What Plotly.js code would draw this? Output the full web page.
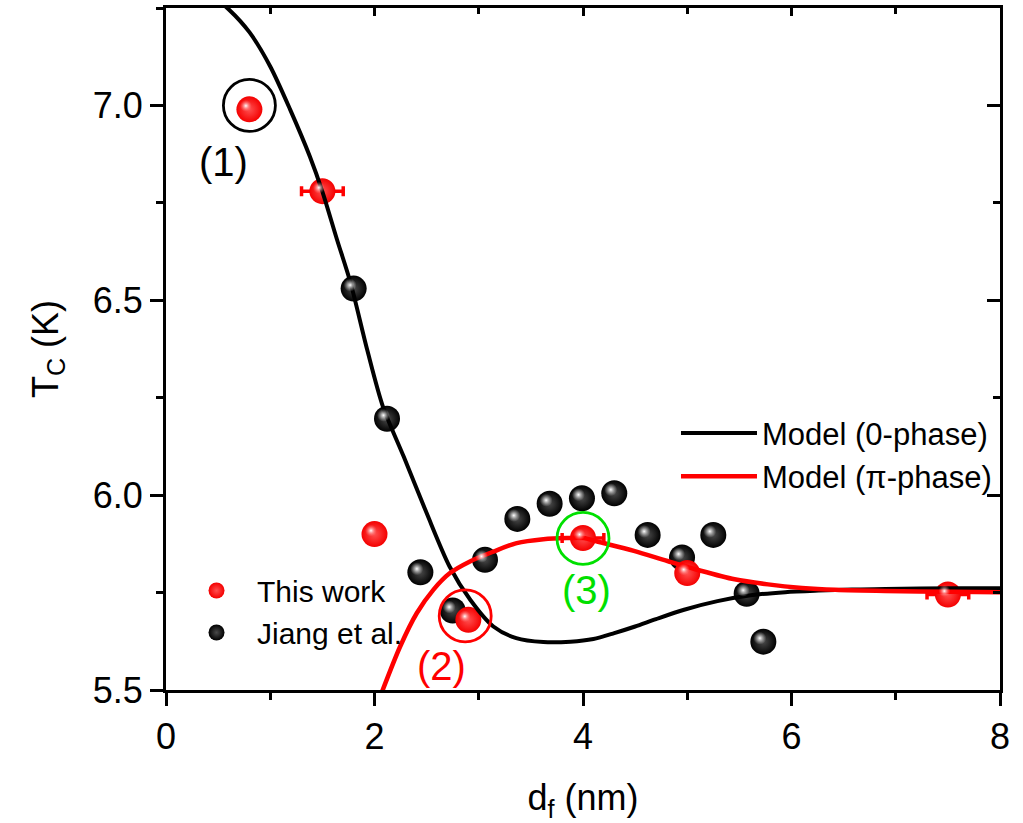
<!DOCTYPE html>
<html>
<head>
<meta charset="utf-8">
<script src="https://cdn.plot.ly/plotly-3.0.1.min.js"></script>
<style>html,body{margin:0;padding:0;background:#fff;}#chart{width:1023px;height:823px;}</style>
</head>
<body>
<div id="chart"></div>
<script>
// ---- data ----
const thisWorkX = [0.8, 1.5, 2.0, 2.9, 4.0, 5.0, 7.5];
const thisWorkY = [6.99, 6.78, 5.90, 5.68, 5.89, 5.80, 5.745];
const thisWorkErr = [null, 0.2, null, null, 0.2, null, 0.2];

const jiangX = [1.8, 2.12, 2.44, 2.75, 3.06, 3.37, 3.68, 3.99, 4.30, 4.62, 4.95, 5.25, 5.57, 5.73];
const jiangY = [6.53, 6.196, 5.802, 5.704, 5.834, 5.939, 5.978, 5.992, 6.005, 5.898, 5.840, 5.898, 5.747, 5.624];

const model0X = [0.4, 0.6, 0.8, 1.0, 1.19, 1.38, 1.5, 1.64, 1.77, 1.93, 2.08, 2.28, 2.5, 2.72, 2.92, 3.14, 3.36, 3.62, 3.88, 4.1, 4.3, 4.5, 4.7, 4.97, 5.29, 5.61, 5.94, 6.26, 6.58, 6.9, 7.55, 8.0];
const model0Y = [7.29, 7.247, 7.188, 7.10, 6.99, 6.869, 6.779, 6.656, 6.545, 6.373, 6.228, 6.099, 5.954, 5.817, 5.731, 5.663, 5.633, 5.623, 5.624, 5.631, 5.646, 5.663, 5.682, 5.706, 5.728, 5.743, 5.751, 5.755, 5.758, 5.759, 5.761, 5.761];

const modelPiX = [2.05, 2.245, 2.405, 2.564, 2.724, 2.916, 3.14, 3.364, 3.62, 3.844, 4.003, 4.166, 4.488, 4.81, 5.13, 5.454, 5.775, 6.10, 6.42, 6.9, 7.55, 8.0];
const modelPiY = [5.48, 5.611, 5.697, 5.757, 5.80, 5.830, 5.855, 5.877, 5.887, 5.890, 5.890, 5.879, 5.857, 5.831, 5.806, 5.784, 5.771, 5.762, 5.757, 5.754, 5.752, 5.751];

const circleX = [0.8, 2.87, 4.0];
const circleY = [7.0, 5.69, 5.889];
const circleColors = ['#000000', '#ff0000', '#00e000'];

const labelText = ['(1)', '(2)', '(3)'];
const labelX = [0.55, 2.64, 4.03];
const labelY = [6.855, 5.562, 5.757];
const labelColors = ['#000000', '#ff0000', '#00e000'];

const xTickVals = [0, 2, 4, 6, 8];
const yTickVals = [5.5, 6.0, 6.5, 7.0];

// ---- styling ----
const FONT = 'Liberation Sans, Arial, sans-serif';
const XR = [0, 8], YR = [5.5, 7.25];
// small offsets (in px) for the specular highlight on the balls
const hx = 3.5 * (XR[1] - XR[0]) / 834, hy = 3.5 * (YR[1] - YR[0]) / 682;

const traces = [
  { x: jiangX, y: jiangY, type: 'scatter', mode: 'markers', name: 'Jiang et al.',
    legend: 'legend', legendrank: 2,
    marker: { size: 26, color: '#000000', gradient: { type: 'radial', color: '#4a4a4a' }, line: { width: 0 } } },
  { x: thisWorkX, y: thisWorkY, type: 'scatter', mode: 'markers', name: 'This work',
    legend: 'legend', legendrank: 1,
    error_x: { type: 'data', array: thisWorkErr, visible: true, color: '#ff0000', thickness: 3.5, width: 5 },
    marker: { size: 26, color: '#f40000', gradient: { type: 'radial', color: '#ff5050' }, line: { width: 0 } } },
  { x: model0X, y: model0Y, type: 'scatter', mode: 'lines', name: 'Model (0-phase)',
    legend: 'legend2', legendrank: 1,
    line: { color: '#000000', width: 4, shape: 'spline', smoothing: 0.8 } },
  { x: modelPiX, y: modelPiY, type: 'scatter', mode: 'lines', name: 'Model (π-phase)',
    legend: 'legend2', legendrank: 2,
    line: { color: '#ff0000', width: 4.5, shape: 'spline', smoothing: 0.8 } },
  { x: circleX, y: circleY, type: 'scatter', mode: 'markers', xaxis: 'x2', yaxis: 'y2', showlegend: false,
    hoverinfo: 'skip',
    marker: { symbol: 'circle-open', size: 52, color: circleColors, line: { width: 2.8 } } },
  { x: jiangX, y: jiangY, type: 'scatter', mode: 'markers', xaxis: 'x3', yaxis: 'y3', showlegend: false,
    hoverinfo: 'skip',
    marker: { size: 13, color: 'rgba(200,200,200,0)', gradient: { type: 'radial', color: '#ffffff' }, line: { width: 0 } } },
  { x: thisWorkX, y: thisWorkY, type: 'scatter', mode: 'markers', xaxis: 'x3', yaxis: 'y3', showlegend: false,
    hoverinfo: 'skip',
    marker: { size: 12, color: 'rgba(255,120,120,0)', gradient: { type: 'radial', color: '#ffffff' }, line: { width: 0 } } }
];

const axCommon = {
  showgrid: false, zeroline: false, showline: true, linecolor: '#000', linewidth: 3,
  tickcolor: '#000', tickwidth: 3, tickfont: { family: FONT, size: 36, color: '#000' }
};

const layout = {
  width: 1023, height: 823,
  margin: { l: 166, r: 23, t: 8, b: 133, pad: 0 },
  paper_bgcolor: '#ffffff', plot_bgcolor: '#ffffff',
  font: { family: FONT, color: '#000' },
  showlegend: true,
  xaxis: Object.assign({}, axCommon, {
    range: XR, tickvals: xTickVals, ticks: 'outside', ticklen: 13, anchor: 'y',
    minor: { dtick: 1, ticks: 'outside', ticklen: 7, tickwidth: 3, tickcolor: '#000', showgrid: false },
    title: { text: 'd<sub>f</sub> (nm)', font: { family: FONT, size: 36, color: '#000' }, standoff: 38 }
  }),
  yaxis: Object.assign({}, axCommon, {
    range: YR, tickvals: yTickVals, tickformat: '.1f', ticks: 'outside', ticklen: 13, anchor: 'x',
    minor: { dtick: 0.25, ticks: 'outside', ticklen: 7, tickwidth: 3, tickcolor: '#000', showgrid: false },
    title: { text: 'T<sub>C</sub> (K)', font: { family: FONT, size: 36, color: '#000' }, standoff: 24 }
  }),
  xaxis2: Object.assign({}, axCommon, {
    range: XR, overlaying: 'x', side: 'top', anchor: 'y2', tickvals: xTickVals, ticks: 'inside', ticklen: 8,
    showticklabels: false,
    minor: { dtick: 1, ticks: 'inside', ticklen: 6, tickwidth: 3, tickcolor: '#000', showgrid: false }
  }),
  yaxis2: Object.assign({}, axCommon, {
    range: YR, overlaying: 'y', side: 'right', anchor: 'x2', tickvals: yTickVals, ticks: 'inside', ticklen: 13,
    showticklabels: false,
    minor: { dtick: 0.25, ticks: 'inside', ticklen: 7, tickwidth: 3, tickcolor: '#000', showgrid: false }
  }),
  xaxis3: { range: [XR[0] + hx, XR[1] + hx], overlaying: 'x', visible: false, anchor: 'y3' },
  yaxis3: { range: [YR[0] - hy, YR[1] - hy], overlaying: 'y', visible: false, anchor: 'x3' },
  legend: {
    x: 0.012, y: 0.184, xanchor: 'left', yanchor: 'top', bgcolor: 'rgba(0,0,0,0)',
    font: { family: FONT, size: 30, color: '#000' }, itemwidth: 71, traceorder: 'normal', tracegroupgap: 0
  },
  legend2: {
    x: 0.6115, y: 0.416, xanchor: 'left', yanchor: 'top', bgcolor: 'rgba(0,0,0,0)',
    font: { family: FONT, size: 31, color: '#000' }, itemwidth: 76, traceorder: 'normal', tracegroupgap: 0
  },
  annotations: labelText.map((t, i) => ({
    x: labelX[i], y: labelY[i], xref: 'x', yref: 'y', text: t, showarrow: false,
    font: { family: FONT, size: 40, color: labelColors[i] }, xanchor: 'center', yanchor: 'middle'
  }))
};

Plotly.newPlot('chart', traces, layout, { displayModeBar: false, staticPlot: true });
</script>
</body>
</html>
